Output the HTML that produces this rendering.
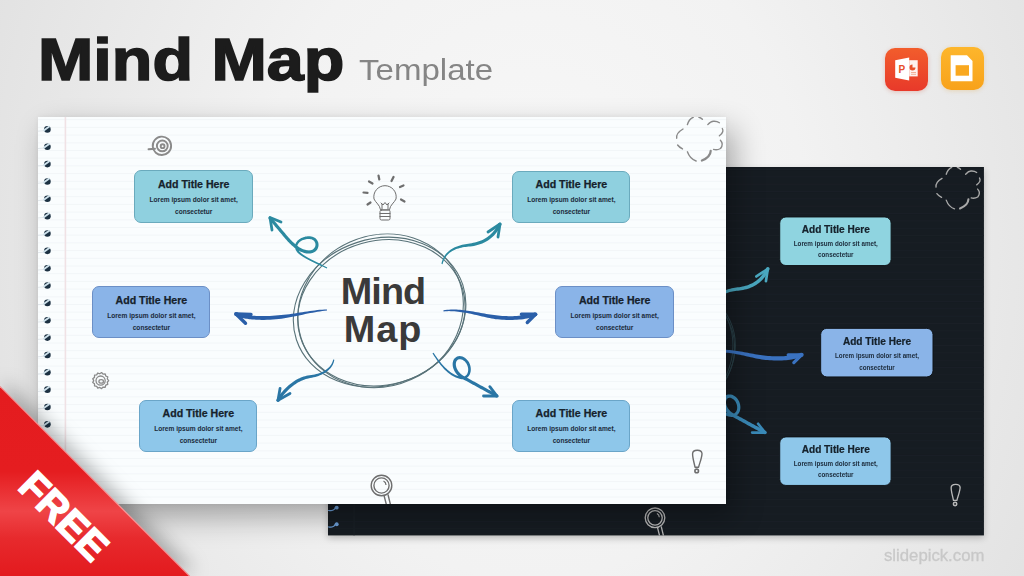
<!DOCTYPE html>
<html><head><meta charset="utf-8">
<style>
*{margin:0;padding:0;box-sizing:border-box}
html,body{width:1024px;height:576px;overflow:hidden}
body{position:relative;font-family:"Liberation Sans",sans-serif;
background:radial-gradient(ellipse 60% 130% at 52% 42%,#f8f8f8 0%,#f2f2f2 45%,#e0e0e0 100%)}
.abs{position:absolute}
#title{left:38.4px;top:26px;font-weight:bold;font-size:59px;color:#1c1c1c;transform-origin:0 0;transform:scaleX(1.126);-webkit-text-stroke:1.6px #1c1c1c;white-space:nowrap}
#tmpl{left:358.7px;top:54px;font-size:29px;color:#858585;white-space:nowrap;transform-origin:0 0;transform:scaleX(1.14)}
#site{left:883.5px;top:547px;font-size:16px;color:#c8c8c8;white-space:nowrap;transform-origin:0 0;transform:scaleX(1.045);-webkit-text-stroke:0.3px #c8c8c8}
.slide{position:absolute;width:689px;height:387px;overflow:hidden}
.slide .art{position:absolute;left:0;top:0}
.white{left:38px;top:117px;width:688px;background:#fafdfe;box-shadow:8px 13px 28px rgba(0,0,0,.32),0 0 6px rgba(0,0,0,.05)}
.dark{left:327.5px;top:167.4px;background:#161c22;transform-origin:0 0;transform:scale(0.952);box-shadow:0 3px 7px rgba(0,0,0,.22)}
.box{position:absolute;border:1.5px solid;border-radius:7px;text-align:center;color:#1b2a3a}
.bt{position:absolute;left:0;right:0;top:6.7px;font-weight:bold;font-size:10.6px;line-height:12px;white-space:nowrap;color:#16222c;-webkit-text-stroke:0.25px #16222c}
.bb{position:absolute;left:0;right:0;top:22.8px;font-weight:bold;font-size:6.6px;line-height:11.7px;white-space:nowrap}
.mm{position:absolute;left:290px;top:155px;width:110px;text-align:center;font-weight:bold;font-size:37.8px;line-height:38.3px}
#free{left:0;top:386px;width:190px;height:190px;clip-path:polygon(0 0,0 100%,100% 100%);
background:linear-gradient(180deg,#e41c1f 0%,#e51d20 45%,#ef4447 66%,#e72a2d 80%,#e31a1e 100%)}
#freetxt{left:63.5px;top:515.5px;width:0;height:0}
#freetxt span{position:absolute;left:-70px;top:-23px;width:140px;text-align:center;font-weight:bold;font-size:40px;line-height:46px;color:#fff;transform:rotate(45deg);letter-spacing:0px;-webkit-text-stroke:1.5px #fff}
.ico{position:absolute;width:43px;height:43px;border-radius:10px}
</style></head><body>
<div id="title" class="abs">Mind Map</div>
<div id="tmpl" class="abs">Template</div>
<div class="ico" style="left:885px;top:48px;background:linear-gradient(180deg,#f25d2c,#e8392a);box-shadow:0 1px 4px rgba(200,60,30,.25)">
<svg width="43" height="43" viewBox="0 0 43 43"><path d="M24.2,12.2 H32.7 V28.4 H24.2Z" fill="#fff" opacity=".92"/><path d="M10.2,12.2 L24.2,9.4 L24.2,32.6 L10.2,29.8 Z" fill="#fff"/><text x="13.6" y="24.6" font-family="Liberation Sans" font-weight="bold" font-size="10" fill="#e8502a">P</text><path d="M27.5,16.5 A3,3 0 1 0 30.5,19.5 H27.5Z" fill="#e8502a"/><path d="M26,24.5 H31 M26,26.3 H31" stroke="#f0a080" stroke-width=".8"/></svg></div>
<div class="ico" style="left:941px;top:47px;background:linear-gradient(180deg,#fdb62c,#f8a21a);box-shadow:0 1px 4px rgba(220,150,30,.25)">
<svg width="43" height="43" viewBox="0 0 43 43"><path d="M9.7,8.3 H26 L31.5,14 V34.3 H9.7 Z" fill="#fff"/><rect x="14.6" y="18.2" width="13.4" height="10.5" fill="#f9a81f"/></svg></div>
<div class="slide dark">
<svg class="art" width="689" height="387" viewBox="0 0 689 387">
<line x1="0" y1="2.70" x2="689" y2="2.70" stroke="#1a2027" stroke-width="1"/>
<line x1="0" y1="10.40" x2="689" y2="10.40" stroke="#1a2027" stroke-width="1"/>
<line x1="0" y1="18.10" x2="689" y2="18.10" stroke="#1a2027" stroke-width="1"/>
<line x1="0" y1="25.80" x2="689" y2="25.80" stroke="#1a2027" stroke-width="1"/>
<line x1="0" y1="33.50" x2="689" y2="33.50" stroke="#1a2027" stroke-width="1"/>
<line x1="0" y1="41.20" x2="689" y2="41.20" stroke="#1a2027" stroke-width="1"/>
<line x1="0" y1="48.90" x2="689" y2="48.90" stroke="#1a2027" stroke-width="1"/>
<line x1="0" y1="56.60" x2="689" y2="56.60" stroke="#1a2027" stroke-width="1"/>
<line x1="0" y1="64.30" x2="689" y2="64.30" stroke="#1a2027" stroke-width="1"/>
<line x1="0" y1="72.00" x2="689" y2="72.00" stroke="#1a2027" stroke-width="1"/>
<line x1="0" y1="79.70" x2="689" y2="79.70" stroke="#1a2027" stroke-width="1"/>
<line x1="0" y1="87.40" x2="689" y2="87.40" stroke="#1a2027" stroke-width="1"/>
<line x1="0" y1="95.10" x2="689" y2="95.10" stroke="#1a2027" stroke-width="1"/>
<line x1="0" y1="102.80" x2="689" y2="102.80" stroke="#1a2027" stroke-width="1"/>
<line x1="0" y1="110.50" x2="689" y2="110.50" stroke="#1a2027" stroke-width="1"/>
<line x1="0" y1="118.20" x2="689" y2="118.20" stroke="#1a2027" stroke-width="1"/>
<line x1="0" y1="125.90" x2="689" y2="125.90" stroke="#1a2027" stroke-width="1"/>
<line x1="0" y1="133.60" x2="689" y2="133.60" stroke="#1a2027" stroke-width="1"/>
<line x1="0" y1="141.30" x2="689" y2="141.30" stroke="#1a2027" stroke-width="1"/>
<line x1="0" y1="149.00" x2="689" y2="149.00" stroke="#1a2027" stroke-width="1"/>
<line x1="0" y1="156.70" x2="689" y2="156.70" stroke="#1a2027" stroke-width="1"/>
<line x1="0" y1="164.40" x2="689" y2="164.40" stroke="#1a2027" stroke-width="1"/>
<line x1="0" y1="172.10" x2="689" y2="172.10" stroke="#1a2027" stroke-width="1"/>
<line x1="0" y1="179.80" x2="689" y2="179.80" stroke="#1a2027" stroke-width="1"/>
<line x1="0" y1="187.50" x2="689" y2="187.50" stroke="#1a2027" stroke-width="1"/>
<line x1="0" y1="195.20" x2="689" y2="195.20" stroke="#1a2027" stroke-width="1"/>
<line x1="0" y1="202.90" x2="689" y2="202.90" stroke="#1a2027" stroke-width="1"/>
<line x1="0" y1="210.60" x2="689" y2="210.60" stroke="#1a2027" stroke-width="1"/>
<line x1="0" y1="218.30" x2="689" y2="218.30" stroke="#1a2027" stroke-width="1"/>
<line x1="0" y1="226.00" x2="689" y2="226.00" stroke="#1a2027" stroke-width="1"/>
<line x1="0" y1="233.70" x2="689" y2="233.70" stroke="#1a2027" stroke-width="1"/>
<line x1="0" y1="241.40" x2="689" y2="241.40" stroke="#1a2027" stroke-width="1"/>
<line x1="0" y1="249.10" x2="689" y2="249.10" stroke="#1a2027" stroke-width="1"/>
<line x1="0" y1="256.80" x2="689" y2="256.80" stroke="#1a2027" stroke-width="1"/>
<line x1="0" y1="264.50" x2="689" y2="264.50" stroke="#1a2027" stroke-width="1"/>
<line x1="0" y1="272.20" x2="689" y2="272.20" stroke="#1a2027" stroke-width="1"/>
<line x1="0" y1="279.90" x2="689" y2="279.90" stroke="#1a2027" stroke-width="1"/>
<line x1="0" y1="287.60" x2="689" y2="287.60" stroke="#1a2027" stroke-width="1"/>
<line x1="0" y1="295.30" x2="689" y2="295.30" stroke="#1a2027" stroke-width="1"/>
<line x1="0" y1="303.00" x2="689" y2="303.00" stroke="#1a2027" stroke-width="1"/>
<line x1="0" y1="310.70" x2="689" y2="310.70" stroke="#1a2027" stroke-width="1"/>
<line x1="0" y1="318.40" x2="689" y2="318.40" stroke="#1a2027" stroke-width="1"/>
<line x1="0" y1="326.10" x2="689" y2="326.10" stroke="#1a2027" stroke-width="1"/>
<line x1="0" y1="333.80" x2="689" y2="333.80" stroke="#1a2027" stroke-width="1"/>
<line x1="0" y1="341.50" x2="689" y2="341.50" stroke="#1a2027" stroke-width="1"/>
<line x1="0" y1="349.20" x2="689" y2="349.20" stroke="#1a2027" stroke-width="1"/>
<line x1="0" y1="356.90" x2="689" y2="356.90" stroke="#1a2027" stroke-width="1"/>
<line x1="0" y1="364.60" x2="689" y2="364.60" stroke="#1a2027" stroke-width="1"/>
<line x1="0" y1="372.30" x2="689" y2="372.30" stroke="#1a2027" stroke-width="1"/>
<line x1="0" y1="380.00" x2="689" y2="380.00" stroke="#1a2027" stroke-width="1"/>
<line x1="27.4" y1="0" x2="27.4" y2="387" stroke="#1a2026" stroke-width="1.6"/>
<path d="M0,14.00 C3,15.00 6,14.80 8.2,11.80 L10.6,10.60 C9.5,8.60 7,9.40 6.6,11.60 C5,13.40 3,13.60 0,13.20Z" fill="#6c9ed6"/>
<circle cx="9.2" cy="10.90" r="2" fill="#6c9ed6"/>
<path d="M0,31.35 C3,32.35 6,32.15 8.2,29.15 L10.6,27.95 C9.5,25.95 7,26.75 6.6,28.95 C5,30.75 3,30.95 0,30.55Z" fill="#6c9ed6"/>
<circle cx="9.2" cy="28.25" r="2" fill="#6c9ed6"/>
<path d="M0,48.70 C3,49.70 6,49.50 8.2,46.50 L10.6,45.30 C9.5,43.30 7,44.10 6.6,46.30 C5,48.10 3,48.30 0,47.90Z" fill="#6c9ed6"/>
<circle cx="9.2" cy="45.60" r="2" fill="#6c9ed6"/>
<path d="M0,66.05 C3,67.05 6,66.85 8.2,63.85 L10.6,62.65 C9.5,60.65 7,61.45 6.6,63.65 C5,65.45 3,65.65 0,65.25Z" fill="#6c9ed6"/>
<circle cx="9.2" cy="62.95" r="2" fill="#6c9ed6"/>
<path d="M0,83.40 C3,84.40 6,84.20 8.2,81.20 L10.6,80.00 C9.5,78.00 7,78.80 6.6,81.00 C5,82.80 3,83.00 0,82.60Z" fill="#6c9ed6"/>
<circle cx="9.2" cy="80.30" r="2" fill="#6c9ed6"/>
<path d="M0,100.75 C3,101.75 6,101.55 8.2,98.55 L10.6,97.35 C9.5,95.35 7,96.15 6.6,98.35 C5,100.15 3,100.35 0,99.95Z" fill="#6c9ed6"/>
<circle cx="9.2" cy="97.65" r="2" fill="#6c9ed6"/>
<path d="M0,118.10 C3,119.10 6,118.90 8.2,115.90 L10.6,114.70 C9.5,112.70 7,113.50 6.6,115.70 C5,117.50 3,117.70 0,117.30Z" fill="#6c9ed6"/>
<circle cx="9.2" cy="115.00" r="2" fill="#6c9ed6"/>
<path d="M0,135.45 C3,136.45 6,136.25 8.2,133.25 L10.6,132.05 C9.5,130.05 7,130.85 6.6,133.05 C5,134.85 3,135.05 0,134.65Z" fill="#6c9ed6"/>
<circle cx="9.2" cy="132.35" r="2" fill="#6c9ed6"/>
<path d="M0,152.80 C3,153.80 6,153.60 8.2,150.60 L10.6,149.40 C9.5,147.40 7,148.20 6.6,150.40 C5,152.20 3,152.40 0,152.00Z" fill="#6c9ed6"/>
<circle cx="9.2" cy="149.70" r="2" fill="#6c9ed6"/>
<path d="M0,170.15 C3,171.15 6,170.95 8.2,167.95 L10.6,166.75 C9.5,164.75 7,165.55 6.6,167.75 C5,169.55 3,169.75 0,169.35Z" fill="#6c9ed6"/>
<circle cx="9.2" cy="167.05" r="2" fill="#6c9ed6"/>
<path d="M0,187.50 C3,188.50 6,188.30 8.2,185.30 L10.6,184.10 C9.5,182.10 7,182.90 6.6,185.10 C5,186.90 3,187.10 0,186.70Z" fill="#6c9ed6"/>
<circle cx="9.2" cy="184.40" r="2" fill="#6c9ed6"/>
<path d="M0,204.85 C3,205.85 6,205.65 8.2,202.65 L10.6,201.45 C9.5,199.45 7,200.25 6.6,202.45 C5,204.25 3,204.45 0,204.05Z" fill="#6c9ed6"/>
<circle cx="9.2" cy="201.75" r="2" fill="#6c9ed6"/>
<path d="M0,222.20 C3,223.20 6,223.00 8.2,220.00 L10.6,218.80 C9.5,216.80 7,217.60 6.6,219.80 C5,221.60 3,221.80 0,221.40Z" fill="#6c9ed6"/>
<circle cx="9.2" cy="219.10" r="2" fill="#6c9ed6"/>
<path d="M0,239.55 C3,240.55 6,240.35 8.2,237.35 L10.6,236.15 C9.5,234.15 7,234.95 6.6,237.15 C5,238.95 3,239.15 0,238.75Z" fill="#6c9ed6"/>
<circle cx="9.2" cy="236.45" r="2" fill="#6c9ed6"/>
<path d="M0,256.90 C3,257.90 6,257.70 8.2,254.70 L10.6,253.50 C9.5,251.50 7,252.30 6.6,254.50 C5,256.30 3,256.50 0,256.10Z" fill="#6c9ed6"/>
<circle cx="9.2" cy="253.80" r="2" fill="#6c9ed6"/>
<path d="M0,274.25 C3,275.25 6,275.05 8.2,272.05 L10.6,270.85 C9.5,268.85 7,269.65 6.6,271.85 C5,273.65 3,273.85 0,273.45Z" fill="#6c9ed6"/>
<circle cx="9.2" cy="271.15" r="2" fill="#6c9ed6"/>
<path d="M0,291.60 C3,292.60 6,292.40 8.2,289.40 L10.6,288.20 C9.5,286.20 7,287.00 6.6,289.20 C5,291.00 3,291.20 0,290.80Z" fill="#6c9ed6"/>
<circle cx="9.2" cy="288.50" r="2" fill="#6c9ed6"/>
<path d="M0,308.95 C3,309.95 6,309.75 8.2,306.75 L10.6,305.55 C9.5,303.55 7,304.35 6.6,306.55 C5,308.35 3,308.55 0,308.15Z" fill="#6c9ed6"/>
<circle cx="9.2" cy="305.85" r="2" fill="#6c9ed6"/>
<path d="M0,326.30 C3,327.30 6,327.10 8.2,324.10 L10.6,322.90 C9.5,320.90 7,321.70 6.6,323.90 C5,325.70 3,325.90 0,325.50Z" fill="#6c9ed6"/>
<circle cx="9.2" cy="323.20" r="2" fill="#6c9ed6"/>
<path d="M0,343.65 C3,344.65 6,344.45 8.2,341.45 L10.6,340.25 C9.5,338.25 7,339.05 6.6,341.25 C5,343.05 3,343.25 0,342.85Z" fill="#6c9ed6"/>
<circle cx="9.2" cy="340.55" r="2" fill="#6c9ed6"/>
<path d="M0,361.00 C3,362.00 6,361.80 8.2,358.80 L10.6,357.60 C9.5,355.60 7,356.40 6.6,358.60 C5,360.40 3,360.60 0,360.20Z" fill="#6c9ed6"/>
<circle cx="9.2" cy="357.90" r="2" fill="#6c9ed6"/>
<path d="M0,378.35 C3,379.35 6,379.15 8.2,376.15 L10.6,374.95 C9.5,372.95 7,373.75 6.6,375.95 C5,377.75 3,377.95 0,377.55Z" fill="#6c9ed6"/>
<circle cx="9.2" cy="375.25" r="2" fill="#6c9ed6"/>
<g fill="none" stroke="#2a4048" stroke-width="1.1">
<ellipse cx="341.6" cy="195.2" rx="87.6" ry="73.3" transform="rotate(-18.3 341.6 195.2)"/>
<ellipse cx="343.4" cy="195.8" rx="84.6" ry="72.0" transform="rotate(-16 343.4 195.8)"/>
<ellipse cx="342.6" cy="193.8" rx="84.2" ry="75.2" transform="rotate(-24 342.6 193.8)"/>
</g>
<path d="M289.58,149.84 L288.06,149.07 L286.52,148.31 L284.97,147.54 L283.40,146.78 L281.83,146.02 L280.27,145.26 L278.71,144.50 L277.17,143.74 L275.65,142.98 L274.17,142.23 L272.72,141.47 L271.31,140.72 L269.95,139.97 L268.65,139.22 L267.42,138.48 L266.25,137.74 L265.17,137.01 L264.17,136.29 L263.27,135.57 L262.46,134.87 L261.77,134.18 L261.19,133.52 L260.73,132.89 L260.40,132.31 L260.05,131.48 L259.84,130.71 L259.75,129.99 L259.75,129.30 L259.85,128.64 L260.04,128.01 L260.32,127.39 L260.68,126.78 L261.13,126.20 L261.65,125.64 L262.26,125.10 L262.94,124.60 L263.68,124.14 L264.47,123.72 L265.31,123.35 L266.20,123.03 L267.11,122.77 L268.04,122.56 L268.98,122.42 L269.93,122.34 L270.87,122.33 L271.80,122.38 L272.71,122.50 L273.47,122.65 L274.16,122.97 L274.83,123.37 L275.40,123.80 L275.89,124.28 L276.29,124.78 L276.62,125.31 L276.87,125.86 L277.05,126.43 L277.16,127.01 L277.21,127.60 L277.19,128.19 L277.10,128.77 L276.94,129.34 L276.73,129.89 L276.44,130.42 L276.10,130.92 L275.70,131.38 L275.23,131.80 L274.71,132.18 L274.11,132.51 L273.45,132.78 L272.71,132.98 L271.90,133.11 L270.99,133.16 L270.01,133.12 L269.03,133.02 L268.06,132.84 L267.08,132.60 L266.11,132.30 L265.15,131.94 L264.18,131.51 L263.23,131.04 L262.28,130.51 L261.33,129.93 L260.40,129.31 L259.47,128.65 L258.55,127.94 L257.65,127.21 L256.76,126.44 L255.88,125.65 L255.01,124.83 L254.16,124.00 L253.32,123.14 L252.50,122.28 L251.70,121.41 L250.91,120.54 L250.15,119.67 L249.40,118.81 L248.74,118.02 L248.07,117.23 L247.41,116.44 L246.74,115.65 L246.07,114.86 L245.41,114.06 L244.74,113.27 L244.07,112.48 L243.41,111.69 L242.74,110.90 L242.07,110.11 L241.41,109.31 L240.74,108.52 L240.07,107.73 L239.41,106.94 L238.74,106.15 L238.07,105.36 L237.41,104.56 L236.74,103.77 L236.07,102.98 L235.41,102.19 L234.74,101.40 L234.07,100.61 L233.41,99.81 L230.59,102.19 L231.26,102.98 L231.93,103.77 L232.59,104.56 L233.26,105.35 L233.93,106.14 L234.59,106.94 L235.26,107.73 L235.93,108.52 L236.59,109.31 L237.26,110.10 L237.93,110.89 L238.59,111.69 L239.26,112.48 L239.93,113.27 L240.59,114.06 L241.26,114.85 L241.93,115.64 L242.59,116.44 L243.26,117.23 L243.93,118.02 L244.59,118.81 L245.26,119.60 L245.93,120.39 L246.60,121.19 L247.37,122.09 L248.17,122.99 L248.98,123.89 L249.82,124.80 L250.68,125.70 L251.56,126.60 L252.46,127.48 L253.38,128.35 L254.33,129.20 L255.29,130.03 L256.27,130.83 L257.28,131.60 L258.31,132.34 L259.35,133.04 L260.42,133.69 L261.51,134.29 L262.63,134.85 L263.76,135.34 L264.92,135.78 L266.09,136.15 L267.29,136.44 L268.51,136.66 L269.75,136.79 L271.01,136.84 L272.28,136.77 L273.49,136.58 L274.63,136.26 L275.69,135.83 L276.67,135.30 L277.55,134.66 L278.33,133.95 L279.01,133.15 L279.58,132.30 L280.05,131.40 L280.41,130.45 L280.65,129.48 L280.79,128.49 L280.81,127.49 L280.71,126.49 L280.50,125.50 L280.18,124.53 L279.73,123.60 L279.16,122.71 L278.47,121.88 L277.67,121.12 L276.76,120.44 L275.73,119.86 L274.53,119.35 L273.27,119.09 L272.09,118.95 L270.91,118.90 L269.73,118.94 L268.56,119.05 L267.40,119.25 L266.25,119.52 L265.14,119.86 L264.05,120.27 L263.01,120.74 L262.01,121.29 L261.06,121.90 L260.18,122.57 L259.37,123.32 L258.63,124.12 L257.99,124.99 L257.45,125.93 L257.02,126.93 L256.73,127.98 L256.58,129.09 L256.59,130.22 L256.76,131.38 L257.10,132.54 L257.60,133.69 L258.14,134.61 L258.79,135.48 L259.55,136.32 L260.40,137.13 L261.34,137.93 L262.36,138.71 L263.46,139.49 L264.64,140.26 L265.88,141.02 L267.18,141.78 L268.54,142.53 L269.94,143.28 L271.39,144.03 L272.88,144.77 L274.40,145.52 L275.94,146.26 L277.50,147.00 L279.08,147.74 L280.66,148.48 L282.24,149.22 L283.81,149.96 L285.37,150.69 L286.91,151.43 L288.42,152.16Z" fill="#4aa8c0"/><circle cx="232.00" cy="101.00" r="1.84" fill="#4aa8c0"/>
<path d="M243,105 L232,100.5 L234,113" fill="none" stroke="#4aa8c0" stroke-width="2.8000000000000003" stroke-linecap="round" stroke-linejoin="round"/>
<path d="M405.26,147.32 L405.70,145.67 L406.21,144.17 L406.81,142.77 L407.50,141.47 L408.25,140.26 L409.08,139.14 L409.98,138.10 L410.94,137.13 L411.97,136.24 L413.05,135.42 L414.19,134.66 L415.38,133.97 L416.62,133.34 L417.90,132.77 L419.22,132.26 L420.58,131.80 L421.97,131.39 L423.39,131.03 L424.82,130.72 L426.27,130.45 L427.74,130.23 L429.21,130.04 L430.68,129.89 L432.22,129.77 L434.14,129.50 L435.99,129.19 L437.78,128.80 L439.51,128.36 L441.19,127.85 L442.81,127.29 L444.38,126.67 L445.89,126.00 L447.36,125.27 L448.77,124.48 L450.14,123.64 L451.45,122.74 L452.71,121.79 L453.93,120.79 L455.09,119.72 L456.22,118.61 L457.29,117.44 L458.32,116.22 L459.31,114.95 L460.25,113.62 L461.16,112.25 L462.02,110.82 L462.85,109.35 L463.63,107.85 L460.37,106.15 L459.62,107.60 L458.85,108.97 L458.05,110.28 L457.22,111.54 L456.36,112.75 L455.46,113.90 L454.53,115.01 L453.56,116.06 L452.56,117.06 L451.51,118.01 L450.43,118.91 L449.30,119.76 L448.13,120.56 L446.91,121.31 L445.64,122.01 L444.33,122.67 L442.96,123.28 L441.53,123.84 L440.05,124.35 L438.52,124.81 L436.92,125.23 L435.26,125.60 L433.55,125.94 L431.78,126.23 L430.31,126.39 L428.76,126.59 L427.21,126.83 L425.66,127.11 L424.12,127.44 L422.58,127.81 L421.06,128.24 L419.57,128.72 L418.09,129.26 L416.65,129.87 L415.24,130.54 L413.87,131.28 L412.55,132.10 L411.28,132.99 L410.06,133.96 L408.91,135.02 L407.83,136.16 L406.82,137.39 L405.90,138.71 L405.07,140.13 L404.33,141.64 L403.69,143.24 L403.16,144.93 L402.74,146.68Z" fill="#4aa8c0"/><circle cx="462.00" cy="107.00" r="1.84" fill="#4aa8c0"/>
<path d="M450,115 L462,107 L460,120" fill="none" stroke="#4aa8c0" stroke-width="2.8000000000000003" stroke-linecap="round" stroke-linejoin="round"/>
<path d="M288.92,191.70 L286.52,191.82 L284.09,191.99 L281.65,192.21 L279.21,192.48 L276.74,192.79 L274.27,193.14 L271.78,193.51 L269.27,193.90 L266.74,194.31 L264.20,194.73 L261.64,195.16 L259.05,195.58 L256.44,196.00 L253.82,196.40 L251.16,196.79 L248.48,197.16 L245.78,197.49 L243.04,197.80 L240.28,198.06 L237.49,198.30 L234.67,198.52 L231.82,198.68 L228.93,198.78 L225.98,198.82 L224.65,198.81 L223.31,198.79 L221.98,198.77 L220.67,198.73 L219.37,198.68 L218.09,198.62 L216.82,198.54 L215.58,198.45 L214.35,198.35 L213.14,198.23 L211.95,198.10 L210.79,197.96 L209.64,197.80 L208.52,197.62 L207.43,197.43 L206.36,197.23 L205.32,197.01 L204.30,196.77 L203.32,196.51 L202.36,196.24 L201.44,195.96 L200.55,195.65 L199.69,195.33 L198.83,194.98 L197.17,199.02 L198.09,199.40 L199.08,199.77 L200.08,200.11 L201.12,200.43 L202.18,200.73 L203.26,201.01 L204.36,201.27 L205.49,201.51 L206.64,201.73 L207.81,201.94 L209.00,202.12 L210.21,202.29 L211.44,202.44 L212.69,202.58 L213.96,202.70 L215.24,202.81 L216.54,202.90 L217.85,202.98 L219.18,203.04 L220.52,203.10 L221.87,203.14 L223.24,203.16 L224.61,203.18 L226.02,203.18 L229.03,203.15 L232.02,203.04 L234.96,202.88 L237.87,202.65 L240.73,202.35 L243.55,201.98 L246.33,201.58 L249.07,201.14 L251.78,200.67 L254.45,200.18 L257.09,199.68 L259.70,199.17 L262.28,198.65 L264.82,198.14 L267.35,197.63 L269.84,197.14 L272.31,196.66 L274.76,196.21 L277.19,195.78 L279.60,195.40 L281.99,195.05 L284.36,194.74 L286.72,194.49 L289.08,194.30Z" fill="#3a72c0"/><circle cx="198.00" cy="197.00" r="2.18" fill="#3a72c0"/>
<path d="M213,197.5 L198,197 L207.5,206.3" fill="none" stroke="#3a72c0" stroke-width="3.4" stroke-linecap="round" stroke-linejoin="round"/>
<path d="M405.64,195.09 L407.44,194.93 L409.22,194.83 L411.00,194.78 L412.80,194.78 L414.59,194.83 L416.39,194.92 L418.20,195.05 L420.01,195.23 L421.83,195.44 L423.65,195.68 L425.48,195.96 L427.31,196.26 L429.14,196.59 L430.98,196.94 L432.82,197.31 L434.67,197.70 L436.52,198.10 L438.38,198.51 L440.24,198.93 L442.10,199.35 L443.97,199.78 L445.84,200.20 L447.72,200.62 L449.60,201.04 L451.53,201.44 L453.51,201.81 L455.54,202.14 L457.60,202.41 L459.69,202.64 L461.81,202.84 L463.95,203.00 L466.10,203.12 L468.26,203.20 L470.42,203.25 L472.59,203.26 L474.74,203.22 L476.89,203.15 L479.01,203.03 L481.12,202.87 L483.20,202.67 L485.25,202.42 L487.26,202.13 L489.23,201.79 L491.15,201.40 L493.02,200.96 L494.83,200.48 L496.58,199.94 L498.23,199.36 L496.77,195.24 L495.22,195.79 L493.62,196.28 L491.95,196.73 L490.22,197.13 L488.42,197.49 L486.57,197.81 L484.67,198.09 L482.73,198.32 L480.74,198.52 L478.73,198.67 L476.69,198.78 L474.63,198.85 L472.56,198.89 L470.48,198.88 L468.39,198.84 L466.31,198.75 L464.23,198.64 L462.17,198.48 L460.13,198.30 L458.12,198.07 L456.13,197.82 L454.18,197.57 L452.27,197.28 L450.40,196.96 L448.53,196.62 L446.66,196.26 L444.78,195.90 L442.90,195.54 L441.02,195.18 L439.14,194.83 L437.25,194.48 L435.36,194.14 L433.48,193.81 L431.59,193.50 L429.71,193.21 L427.82,192.94 L425.93,192.69 L424.05,192.47 L422.17,192.29 L420.29,192.13 L418.41,192.02 L416.53,191.94 L414.65,191.91 L412.78,191.93 L410.92,191.99 L409.05,192.11 L407.19,192.28 L405.36,192.51Z" fill="#3a72c0"/><circle cx="497.50" cy="197.30" r="2.18" fill="#3a72c0"/>
<path d="M483.4,197.3 L497.5,197.3 L489.3,205.5" fill="none" stroke="#3a72c0" stroke-width="3.4" stroke-linecap="round" stroke-linejoin="round"/>
<path d="M294.48,242.42 L294.22,243.51 L293.90,244.53 L293.51,245.51 L293.06,246.46 L292.54,247.37 L291.95,248.25 L291.30,249.10 L290.58,249.91 L289.79,250.69 L288.93,251.44 L288.01,252.16 L287.01,252.85 L285.95,253.50 L284.82,254.12 L283.61,254.70 L282.34,255.25 L281.00,255.76 L279.60,256.23 L278.12,256.67 L276.58,257.07 L274.98,257.43 L273.31,257.75 L271.57,258.03 L269.69,258.28 L268.32,258.56 L266.96,258.91 L265.59,259.32 L264.21,259.79 L262.83,260.33 L261.44,260.95 L260.05,261.63 L258.66,262.37 L257.27,263.17 L255.89,264.03 L254.52,264.95 L253.15,265.94 L251.80,266.98 L250.46,268.09 L249.13,269.25 L247.83,270.47 L246.55,271.75 L245.29,273.09 L244.06,274.49 L242.87,275.95 L241.70,277.46 L240.57,279.04 L239.48,280.67 L238.44,282.33 L241.56,284.27 L242.57,282.66 L243.59,281.14 L244.65,279.66 L245.75,278.24 L246.87,276.88 L248.02,275.57 L249.19,274.31 L250.39,273.11 L251.61,271.97 L252.84,270.89 L254.09,269.86 L255.35,268.89 L256.62,267.97 L257.89,267.12 L259.17,266.32 L260.45,265.58 L261.73,264.90 L263.00,264.28 L264.26,263.72 L265.51,263.20 L266.74,262.74 L267.96,262.34 L269.16,262.00 L270.31,261.72 L272.12,261.43 L273.94,261.09 L275.70,260.70 L277.40,260.27 L279.04,259.80 L280.61,259.29 L282.12,258.73 L283.56,258.14 L284.94,257.50 L286.25,256.82 L287.50,256.09 L288.68,255.33 L289.78,254.52 L290.82,253.67 L291.79,252.77 L292.68,251.84 L293.50,250.86 L294.24,249.84 L294.91,248.78 L295.49,247.69 L296.00,246.55 L296.42,245.38 L296.77,244.18 L297.02,242.98Z" fill="#3a8ab8"/><circle cx="240.00" cy="283.30" r="1.84" fill="#3a8ab8"/>
<path d="M242.1,271.3 L240,283.3 L252,276.5" fill="none" stroke="#3a8ab8" stroke-width="2.8000000000000003" stroke-linecap="round" stroke-linejoin="round"/>
<path d="M393.91,236.70 L394.79,238.10 L395.71,239.52 L396.66,240.95 L397.64,242.38 L398.66,243.81 L399.70,245.24 L400.78,246.65 L401.88,248.04 L403.02,249.41 L404.19,250.74 L405.38,252.04 L406.61,253.29 L407.87,254.49 L409.16,255.64 L410.49,256.73 L411.84,257.74 L413.23,258.69 L414.65,259.55 L416.10,260.32 L417.59,261.00 L419.11,261.57 L420.66,262.03 L422.25,262.37 L423.94,262.59 L425.42,262.50 L426.75,262.22 L427.97,261.76 L429.08,261.14 L430.06,260.36 L430.90,259.46 L431.61,258.46 L432.18,257.37 L432.62,256.22 L432.93,255.01 L433.12,253.77 L433.18,252.50 L433.13,251.21 L432.96,249.92 L432.68,248.63 L432.27,247.36 L431.75,246.12 L431.11,244.91 L430.34,243.76 L429.45,242.68 L428.44,241.68 L427.30,240.78 L426.04,239.99 L424.59,239.31 L423.06,238.95 L421.65,238.84 L420.30,238.97 L419.04,239.34 L417.89,239.92 L416.89,240.70 L416.06,241.65 L415.40,242.72 L414.91,243.90 L414.58,245.16 L414.42,246.48 L414.41,247.85 L414.56,249.26 L414.88,250.69 L415.35,252.14 L415.98,253.60 L416.78,255.04 L417.75,256.45 L418.89,257.83 L420.21,259.16 L421.70,260.42 L423.37,261.60 L425.23,262.70 L427.16,263.64 L428.41,264.32 L429.70,265.03 L430.99,265.74 L432.28,266.45 L433.57,267.16 L434.87,267.86 L436.16,268.57 L437.45,269.28 L438.74,269.99 L440.03,270.70 L441.32,271.41 L442.62,272.11 L443.91,272.82 L445.20,273.53 L446.49,274.24 L447.78,274.95 L449.07,275.66 L450.37,276.36 L451.66,277.07 L452.95,277.78 L454.24,278.49 L455.53,279.20 L456.82,279.91 L458.12,280.61 L459.88,277.39 L458.59,276.68 L457.30,275.97 L456.01,275.26 L454.72,274.55 L453.43,273.84 L452.13,273.14 L450.84,272.43 L449.55,271.72 L448.26,271.01 L446.97,270.30 L445.68,269.59 L444.38,268.89 L443.09,268.18 L441.80,267.47 L440.51,266.76 L439.22,266.05 L437.93,265.34 L436.63,264.64 L435.34,263.93 L434.05,263.22 L432.76,262.51 L431.47,261.80 L430.18,261.09 L428.84,260.36 L426.96,259.45 L425.37,258.51 L423.95,257.51 L422.70,256.45 L421.62,255.36 L420.69,254.24 L419.91,253.10 L419.28,251.96 L418.79,250.83 L418.43,249.73 L418.20,248.67 L418.09,247.65 L418.09,246.70 L418.20,245.84 L418.40,245.06 L418.68,244.39 L419.02,243.82 L419.42,243.36 L419.87,242.99 L420.39,242.72 L420.99,242.54 L421.70,242.46 L422.52,242.51 L423.41,242.69 L424.35,243.13 L425.28,243.69 L426.12,244.33 L426.88,245.06 L427.55,245.86 L428.14,246.71 L428.64,247.62 L429.06,248.57 L429.38,249.54 L429.62,250.53 L429.76,251.52 L429.82,252.50 L429.78,253.45 L429.66,254.37 L429.45,255.23 L429.16,256.04 L428.79,256.76 L428.35,257.41 L427.84,257.98 L427.25,258.46 L426.59,258.85 L425.84,259.14 L424.98,259.34 L424.06,259.41 L422.77,259.26 L421.42,258.99 L420.08,258.61 L418.75,258.13 L417.44,257.56 L416.13,256.89 L414.84,256.13 L413.57,255.29 L412.31,254.37 L411.06,253.38 L409.84,252.33 L408.64,251.21 L407.45,250.04 L406.29,248.82 L405.16,247.56 L404.04,246.26 L402.95,244.93 L401.89,243.58 L400.86,242.20 L399.85,240.82 L398.87,239.44 L397.91,238.05 L396.99,236.67 L396.09,235.30Z" fill="#3a8ab8"/><circle cx="459.00" cy="279.00" r="1.84" fill="#3a8ab8"/>
<path d="M451.8,269.7 L459,279 L445.5,279" fill="none" stroke="#3a8ab8" stroke-width="2.8000000000000003" stroke-linecap="round" stroke-linejoin="round"/>
<g fill="none" stroke="#a8a8a8" stroke-width="1.9" stroke-linecap="round">
<path d="M114.8,30 A9.2,9.2 0 1 1 123.8,38 A9.2,9.2 0 0 1 114.8,30"/>
<circle cx="124.3" cy="28.9" r="5.4"/>
<circle cx="124.6" cy="29.2" r="1.9"/>
<path d="M110.5,32.3 L117,31.8"/>
</g>
<g fill="none" stroke="#b8b8b8" stroke-width="1" stroke-linecap="round">
<path d="M342.5,92.5 C342,88 337.5,85.5 336,82 A11.2,11.2 0 1 1 358,82 C356.5,85.5 352,88 351.5,92.5 Z"/>
<path d="M344,92 L344,87 M350,92 L350,87 M343,86 L345,88 L347,85.5 L349,88 L351,86"/>
<rect x="342" y="93" width="10" height="10" rx="1.5"/>
<path d="M342,96.5 H352 M342,99.5 H352"/>
</g>
<g stroke="#b8b8b8" stroke-width="2.2" stroke-linecap="round">
<path d="M340.5,58.5 L341.3,62.5"/><path d="M355.5,60 L353.5,64"/><path d="M331,64.5 L334.5,66.5"/>
<path d="M365.5,68.5 L362,70"/><path d="M325.5,75.5 L329.5,75.8"/><path d="M363,82.5 L366.5,84.5"/><path d="M329.5,87.5 L332.5,85.5"/>
</g>
<g fill="none" stroke="#a8a8a8" stroke-width="1.4" stroke-linecap="round">
<path d="M649.4,7.6 Q651,2 655.2,0.3"/>
<path d="M661,0.3 Q663,0.8 664.4,2.3"/>
<path d="M669.8,7.6 Q673,4 675.6,4.2 Q679,4 681.4,5.7"/>
<path d="M684.3,11.5 Q686.5,15 681.4,18.8"/>
<path d="M682.4,23.2 Q686,27 682.5,31.5 Q679,33.5 675.6,32.4"/>
<path d="M672.7,33.9 Q672.5,40 663.9,43.6" stroke-width="2.2"/>
<path d="M658.1,44 Q652,42 649.4,34.8"/>
<path d="M644.5,31.9 Q641,30 639.6,28"/>
<path d="M638.7,21.2 Q638,16 645,12"/>
</g>
<g fill="none" stroke="#a8a8a8" stroke-width="1.3" stroke-linejoin="round">
<polygon points="70.70,263.60 69.30,265.25 69.77,267.36 67.76,268.18 67.20,270.27 65.05,270.05 63.58,271.64 61.77,270.45 59.73,271.17 58.68,269.28 56.54,268.97 56.49,266.81 54.74,265.54 55.70,263.60 54.74,261.66 56.49,260.39 56.54,258.23 58.68,257.92 59.73,256.03 61.77,256.75 63.58,255.56 65.05,257.15 67.20,256.93 67.76,259.02 69.77,259.84 69.30,261.95"/>
<circle cx="62.6" cy="263.6" r="4.6"/>
<ellipse cx="63.2" cy="264.4" rx="2.3" ry="1.8"/>
</g>
<g fill="none" stroke="#b8b8b8" stroke-width="1.4" stroke-linejoin="round">
<path d="M654.6,336.5 C654.8,332.5 663.5,332 664,336.5 C664,341 661.5,346 660.6,350.2 L657,350.2 C656,345 654.4,340.5 654.6,336.5 Z"/>
<circle cx="658.7" cy="353.9" r="1.8" stroke-width="1.6"/>
</g>
<g fill="none" stroke="#b8b8b8" stroke-width="1.4">
<circle cx="343.5" cy="368.5" r="10.3"/>
<circle cx="343.5" cy="368.5" r="7.6"/>
<path d="M345.5,364 A4.5,4.5 0 0 1 348,368" stroke-width="1.2"/>
<path d="M346,378.3 L349.5,392 M350,377.5 L353.5,392"/>
</g>
</svg>
<div class="box" style="left:96.2px;top:53.2px;width:119px;height:52.8px;background:#8fd4e0;border-color:#0e1216"><div class="bt">Add Title Here</div><div class="bb">Lorem ipsum dolor sit amet,<br>consectetur</div></div>
<div class="box" style="left:474.4px;top:51.7px;width:118px;height:52.7px;background:#8fd4e0;border-color:#0e1216"><div class="bt">Add Title Here</div><div class="bb">Lorem ipsum dolor sit amet,<br>consectetur</div></div>
<div class="box" style="left:54.4px;top:169px;width:118px;height:52px;background:#8ab4e8;border-color:#0e1216"><div class="bt">Add Title Here</div><div class="bb">Lorem ipsum dolor sit amet,<br>consectetur</div></div>
<div class="box" style="left:517.4px;top:169px;width:118.6px;height:52.2px;background:#8ab4e8;border-color:#0e1216"><div class="bt">Add Title Here</div><div class="bb">Lorem ipsum dolor sit amet,<br>consectetur</div></div>
<div class="box" style="left:101.2px;top:282.5px;width:118.3px;height:52px;background:#8ec7ea;border-color:#0e1216"><div class="bt">Add Title Here</div><div class="bb">Lorem ipsum dolor sit amet,<br>consectetur</div></div>
<div class="box" style="left:474.4px;top:282.5px;width:118px;height:52px;background:#8ec7ea;border-color:#0e1216"><div class="bt">Add Title Here</div><div class="bb">Lorem ipsum dolor sit amet,<br>consectetur</div></div>
<div class="mm" style="color:#3a3a3a"><span style="letter-spacing:-0.9px">Mind</span><br><span style="letter-spacing:0.9px">Map</span></div>
</div>
<div class="slide white">
<svg class="art" width="689" height="387" viewBox="0 0 689 387">
<line x1="0" y1="2.70" x2="689" y2="2.70" stroke="#f2f6f8" stroke-width="1"/>
<line x1="0" y1="10.40" x2="689" y2="10.40" stroke="#f2f6f8" stroke-width="1"/>
<line x1="0" y1="18.10" x2="689" y2="18.10" stroke="#f2f6f8" stroke-width="1"/>
<line x1="0" y1="25.80" x2="689" y2="25.80" stroke="#f2f6f8" stroke-width="1"/>
<line x1="0" y1="33.50" x2="689" y2="33.50" stroke="#f2f6f8" stroke-width="1"/>
<line x1="0" y1="41.20" x2="689" y2="41.20" stroke="#f2f6f8" stroke-width="1"/>
<line x1="0" y1="48.90" x2="689" y2="48.90" stroke="#f2f6f8" stroke-width="1"/>
<line x1="0" y1="56.60" x2="689" y2="56.60" stroke="#f2f6f8" stroke-width="1"/>
<line x1="0" y1="64.30" x2="689" y2="64.30" stroke="#f2f6f8" stroke-width="1"/>
<line x1="0" y1="72.00" x2="689" y2="72.00" stroke="#f2f6f8" stroke-width="1"/>
<line x1="0" y1="79.70" x2="689" y2="79.70" stroke="#f2f6f8" stroke-width="1"/>
<line x1="0" y1="87.40" x2="689" y2="87.40" stroke="#f2f6f8" stroke-width="1"/>
<line x1="0" y1="95.10" x2="689" y2="95.10" stroke="#f2f6f8" stroke-width="1"/>
<line x1="0" y1="102.80" x2="689" y2="102.80" stroke="#f2f6f8" stroke-width="1"/>
<line x1="0" y1="110.50" x2="689" y2="110.50" stroke="#f2f6f8" stroke-width="1"/>
<line x1="0" y1="118.20" x2="689" y2="118.20" stroke="#f2f6f8" stroke-width="1"/>
<line x1="0" y1="125.90" x2="689" y2="125.90" stroke="#f2f6f8" stroke-width="1"/>
<line x1="0" y1="133.60" x2="689" y2="133.60" stroke="#f2f6f8" stroke-width="1"/>
<line x1="0" y1="141.30" x2="689" y2="141.30" stroke="#f2f6f8" stroke-width="1"/>
<line x1="0" y1="149.00" x2="689" y2="149.00" stroke="#f2f6f8" stroke-width="1"/>
<line x1="0" y1="156.70" x2="689" y2="156.70" stroke="#f2f6f8" stroke-width="1"/>
<line x1="0" y1="164.40" x2="689" y2="164.40" stroke="#f2f6f8" stroke-width="1"/>
<line x1="0" y1="172.10" x2="689" y2="172.10" stroke="#f2f6f8" stroke-width="1"/>
<line x1="0" y1="179.80" x2="689" y2="179.80" stroke="#f2f6f8" stroke-width="1"/>
<line x1="0" y1="187.50" x2="689" y2="187.50" stroke="#f2f6f8" stroke-width="1"/>
<line x1="0" y1="195.20" x2="689" y2="195.20" stroke="#f2f6f8" stroke-width="1"/>
<line x1="0" y1="202.90" x2="689" y2="202.90" stroke="#f2f6f8" stroke-width="1"/>
<line x1="0" y1="210.60" x2="689" y2="210.60" stroke="#f2f6f8" stroke-width="1"/>
<line x1="0" y1="218.30" x2="689" y2="218.30" stroke="#f2f6f8" stroke-width="1"/>
<line x1="0" y1="226.00" x2="689" y2="226.00" stroke="#f2f6f8" stroke-width="1"/>
<line x1="0" y1="233.70" x2="689" y2="233.70" stroke="#f2f6f8" stroke-width="1"/>
<line x1="0" y1="241.40" x2="689" y2="241.40" stroke="#f2f6f8" stroke-width="1"/>
<line x1="0" y1="249.10" x2="689" y2="249.10" stroke="#f2f6f8" stroke-width="1"/>
<line x1="0" y1="256.80" x2="689" y2="256.80" stroke="#f2f6f8" stroke-width="1"/>
<line x1="0" y1="264.50" x2="689" y2="264.50" stroke="#f2f6f8" stroke-width="1"/>
<line x1="0" y1="272.20" x2="689" y2="272.20" stroke="#f2f6f8" stroke-width="1"/>
<line x1="0" y1="279.90" x2="689" y2="279.90" stroke="#f2f6f8" stroke-width="1"/>
<line x1="0" y1="287.60" x2="689" y2="287.60" stroke="#f2f6f8" stroke-width="1"/>
<line x1="0" y1="295.30" x2="689" y2="295.30" stroke="#f2f6f8" stroke-width="1"/>
<line x1="0" y1="303.00" x2="689" y2="303.00" stroke="#f2f6f8" stroke-width="1"/>
<line x1="0" y1="310.70" x2="689" y2="310.70" stroke="#f2f6f8" stroke-width="1"/>
<line x1="0" y1="318.40" x2="689" y2="318.40" stroke="#f2f6f8" stroke-width="1"/>
<line x1="0" y1="326.10" x2="689" y2="326.10" stroke="#f2f6f8" stroke-width="1"/>
<line x1="0" y1="333.80" x2="689" y2="333.80" stroke="#f2f6f8" stroke-width="1"/>
<line x1="0" y1="341.50" x2="689" y2="341.50" stroke="#f2f6f8" stroke-width="1"/>
<line x1="0" y1="349.20" x2="689" y2="349.20" stroke="#f2f6f8" stroke-width="1"/>
<line x1="0" y1="356.90" x2="689" y2="356.90" stroke="#f2f6f8" stroke-width="1"/>
<line x1="0" y1="364.60" x2="689" y2="364.60" stroke="#f2f6f8" stroke-width="1"/>
<line x1="0" y1="372.30" x2="689" y2="372.30" stroke="#f2f6f8" stroke-width="1"/>
<line x1="0" y1="380.00" x2="689" y2="380.00" stroke="#f2f6f8" stroke-width="1"/>
<line x1="27.4" y1="0" x2="27.4" y2="387" stroke="#f0e2e5" stroke-width="1.6"/>
<line x1="0" y1="14.20" x2="7" y2="13.60" stroke="#d5dce2" stroke-width="0.7"/>
<circle cx="9.4" cy="12.40" r="3.3" fill="#1c3142"/>
<line x1="5.4" y1="13.70" x2="11.6" y2="9.30" stroke="#cfe2ec" stroke-width="1.9"/>
<line x1="0" y1="31.55" x2="7" y2="30.95" stroke="#d5dce2" stroke-width="0.7"/>
<circle cx="9.4" cy="29.75" r="3.3" fill="#1c3142"/>
<line x1="5.4" y1="31.05" x2="11.6" y2="26.65" stroke="#cfe2ec" stroke-width="1.9"/>
<line x1="0" y1="48.90" x2="7" y2="48.30" stroke="#d5dce2" stroke-width="0.7"/>
<circle cx="9.4" cy="47.10" r="3.3" fill="#1c3142"/>
<line x1="5.4" y1="48.40" x2="11.6" y2="44.00" stroke="#cfe2ec" stroke-width="1.9"/>
<line x1="0" y1="66.25" x2="7" y2="65.65" stroke="#d5dce2" stroke-width="0.7"/>
<circle cx="9.4" cy="64.45" r="3.3" fill="#1c3142"/>
<line x1="5.4" y1="65.75" x2="11.6" y2="61.35" stroke="#cfe2ec" stroke-width="1.9"/>
<line x1="0" y1="83.60" x2="7" y2="83.00" stroke="#d5dce2" stroke-width="0.7"/>
<circle cx="9.4" cy="81.80" r="3.3" fill="#1c3142"/>
<line x1="5.4" y1="83.10" x2="11.6" y2="78.70" stroke="#cfe2ec" stroke-width="1.9"/>
<line x1="0" y1="100.95" x2="7" y2="100.35" stroke="#d5dce2" stroke-width="0.7"/>
<circle cx="9.4" cy="99.15" r="3.3" fill="#1c3142"/>
<line x1="5.4" y1="100.45" x2="11.6" y2="96.05" stroke="#cfe2ec" stroke-width="1.9"/>
<line x1="0" y1="118.30" x2="7" y2="117.70" stroke="#d5dce2" stroke-width="0.7"/>
<circle cx="9.4" cy="116.50" r="3.3" fill="#1c3142"/>
<line x1="5.4" y1="117.80" x2="11.6" y2="113.40" stroke="#cfe2ec" stroke-width="1.9"/>
<line x1="0" y1="135.65" x2="7" y2="135.05" stroke="#d5dce2" stroke-width="0.7"/>
<circle cx="9.4" cy="133.85" r="3.3" fill="#1c3142"/>
<line x1="5.4" y1="135.15" x2="11.6" y2="130.75" stroke="#cfe2ec" stroke-width="1.9"/>
<line x1="0" y1="153.00" x2="7" y2="152.40" stroke="#d5dce2" stroke-width="0.7"/>
<circle cx="9.4" cy="151.20" r="3.3" fill="#1c3142"/>
<line x1="5.4" y1="152.50" x2="11.6" y2="148.10" stroke="#cfe2ec" stroke-width="1.9"/>
<line x1="0" y1="170.35" x2="7" y2="169.75" stroke="#d5dce2" stroke-width="0.7"/>
<circle cx="9.4" cy="168.55" r="3.3" fill="#1c3142"/>
<line x1="5.4" y1="169.85" x2="11.6" y2="165.45" stroke="#cfe2ec" stroke-width="1.9"/>
<line x1="0" y1="187.70" x2="7" y2="187.10" stroke="#d5dce2" stroke-width="0.7"/>
<circle cx="9.4" cy="185.90" r="3.3" fill="#1c3142"/>
<line x1="5.4" y1="187.20" x2="11.6" y2="182.80" stroke="#cfe2ec" stroke-width="1.9"/>
<line x1="0" y1="205.05" x2="7" y2="204.45" stroke="#d5dce2" stroke-width="0.7"/>
<circle cx="9.4" cy="203.25" r="3.3" fill="#1c3142"/>
<line x1="5.4" y1="204.55" x2="11.6" y2="200.15" stroke="#cfe2ec" stroke-width="1.9"/>
<line x1="0" y1="222.40" x2="7" y2="221.80" stroke="#d5dce2" stroke-width="0.7"/>
<circle cx="9.4" cy="220.60" r="3.3" fill="#1c3142"/>
<line x1="5.4" y1="221.90" x2="11.6" y2="217.50" stroke="#cfe2ec" stroke-width="1.9"/>
<line x1="0" y1="239.75" x2="7" y2="239.15" stroke="#d5dce2" stroke-width="0.7"/>
<circle cx="9.4" cy="237.95" r="3.3" fill="#1c3142"/>
<line x1="5.4" y1="239.25" x2="11.6" y2="234.85" stroke="#cfe2ec" stroke-width="1.9"/>
<line x1="0" y1="257.10" x2="7" y2="256.50" stroke="#d5dce2" stroke-width="0.7"/>
<circle cx="9.4" cy="255.30" r="3.3" fill="#1c3142"/>
<line x1="5.4" y1="256.60" x2="11.6" y2="252.20" stroke="#cfe2ec" stroke-width="1.9"/>
<line x1="0" y1="274.45" x2="7" y2="273.85" stroke="#d5dce2" stroke-width="0.7"/>
<circle cx="9.4" cy="272.65" r="3.3" fill="#1c3142"/>
<line x1="5.4" y1="273.95" x2="11.6" y2="269.55" stroke="#cfe2ec" stroke-width="1.9"/>
<line x1="0" y1="291.80" x2="7" y2="291.20" stroke="#d5dce2" stroke-width="0.7"/>
<circle cx="9.4" cy="290.00" r="3.3" fill="#1c3142"/>
<line x1="5.4" y1="291.30" x2="11.6" y2="286.90" stroke="#cfe2ec" stroke-width="1.9"/>
<line x1="0" y1="309.15" x2="7" y2="308.55" stroke="#d5dce2" stroke-width="0.7"/>
<circle cx="9.4" cy="307.35" r="3.3" fill="#1c3142"/>
<line x1="5.4" y1="308.65" x2="11.6" y2="304.25" stroke="#cfe2ec" stroke-width="1.9"/>
<line x1="0" y1="326.50" x2="7" y2="325.90" stroke="#d5dce2" stroke-width="0.7"/>
<circle cx="9.4" cy="324.70" r="3.3" fill="#1c3142"/>
<line x1="5.4" y1="326.00" x2="11.6" y2="321.60" stroke="#cfe2ec" stroke-width="1.9"/>
<line x1="0" y1="343.85" x2="7" y2="343.25" stroke="#d5dce2" stroke-width="0.7"/>
<circle cx="9.4" cy="342.05" r="3.3" fill="#1c3142"/>
<line x1="5.4" y1="343.35" x2="11.6" y2="338.95" stroke="#cfe2ec" stroke-width="1.9"/>
<line x1="0" y1="361.20" x2="7" y2="360.60" stroke="#d5dce2" stroke-width="0.7"/>
<circle cx="9.4" cy="359.40" r="3.3" fill="#1c3142"/>
<line x1="5.4" y1="360.70" x2="11.6" y2="356.30" stroke="#cfe2ec" stroke-width="1.9"/>
<line x1="0" y1="378.55" x2="7" y2="377.95" stroke="#d5dce2" stroke-width="0.7"/>
<circle cx="9.4" cy="376.75" r="3.3" fill="#1c3142"/>
<line x1="5.4" y1="378.05" x2="11.6" y2="373.65" stroke="#cfe2ec" stroke-width="1.9"/>
<g fill="none" stroke="#587278" stroke-width="1.1">
<ellipse cx="341.6" cy="195.2" rx="87.6" ry="73.3" transform="rotate(-18.3 341.6 195.2)"/>
<ellipse cx="343.4" cy="195.8" rx="84.6" ry="72.0" transform="rotate(-16 343.4 195.8)"/>
<ellipse cx="342.6" cy="193.8" rx="84.2" ry="75.2" transform="rotate(-24 342.6 193.8)"/>
</g>
<path d="M289.27,150.46 L287.76,149.69 L286.23,148.92 L284.68,148.15 L283.12,147.37 L281.55,146.60 L279.99,145.83 L278.44,145.06 L276.90,144.29 L275.39,143.52 L273.90,142.75 L272.45,141.99 L271.04,141.22 L269.68,140.46 L268.38,139.70 L267.14,138.95 L265.96,138.19 L264.87,137.44 L263.86,136.70 L262.94,135.97 L262.12,135.24 L261.41,134.53 L260.81,133.83 L260.33,133.16 L259.97,132.52 L259.61,131.64 L259.39,130.81 L259.29,130.02 L259.30,129.27 L259.41,128.55 L259.62,127.86 L259.93,127.19 L260.32,126.54 L260.80,125.93 L261.36,125.34 L262.00,124.78 L262.70,124.27 L263.47,123.79 L264.30,123.37 L265.17,122.99 L266.08,122.67 L267.01,122.41 L267.97,122.20 L268.94,122.06 L269.91,121.99 L270.88,121.98 L271.83,122.04 L272.76,122.17 L273.57,122.34 L274.31,122.68 L275.00,123.10 L275.60,123.57 L276.11,124.07 L276.53,124.61 L276.87,125.17 L277.14,125.75 L277.32,126.35 L277.44,126.97 L277.48,127.59 L277.46,128.21 L277.36,128.82 L277.19,129.42 L276.96,130.00 L276.66,130.55 L276.29,131.07 L275.87,131.55 L275.38,131.99 L274.83,132.39 L274.22,132.73 L273.53,133.01 L272.76,133.22 L271.92,133.35 L270.99,133.40 L270.00,133.36 L269.00,133.25 L268.01,133.08 L267.02,132.83 L266.03,132.53 L265.06,132.16 L264.08,131.73 L263.12,131.25 L262.16,130.72 L261.20,130.14 L260.26,129.51 L259.33,128.84 L258.41,128.13 L257.50,127.39 L256.60,126.62 L255.71,125.82 L254.84,125.00 L253.99,124.17 L253.15,123.31 L252.33,122.45 L251.52,121.58 L250.74,120.70 L249.97,119.83 L249.22,118.96 L248.56,118.18 L247.89,117.39 L247.22,116.59 L246.56,115.80 L245.89,115.01 L245.22,114.22 L244.56,113.43 L243.89,112.64 L243.22,111.84 L242.56,111.05 L241.89,110.26 L241.22,109.47 L240.56,108.68 L239.89,107.89 L239.22,107.09 L238.56,106.30 L237.89,105.51 L237.22,104.72 L236.56,103.93 L235.89,103.14 L235.22,102.34 L234.56,101.55 L233.89,100.76 L233.22,99.97 L230.78,102.03 L231.44,102.82 L232.11,103.61 L232.78,104.41 L233.44,105.20 L234.11,105.99 L234.78,106.78 L235.44,107.57 L236.11,108.36 L236.78,109.16 L237.44,109.95 L238.11,110.74 L238.78,111.53 L239.44,112.32 L240.11,113.11 L240.78,113.91 L241.44,114.70 L242.11,115.49 L242.78,116.28 L243.44,117.07 L244.11,117.86 L244.78,118.66 L245.44,119.45 L246.11,120.24 L246.78,121.04 L247.55,121.93 L248.35,122.83 L249.16,123.73 L249.99,124.64 L250.85,125.54 L251.73,126.43 L252.63,127.31 L253.54,128.18 L254.48,129.02 L255.44,129.85 L256.42,130.64 L257.42,131.41 L258.44,132.14 L259.48,132.83 L260.54,133.48 L261.63,134.08 L262.73,134.63 L263.85,135.12 L264.99,135.55 L266.16,135.92 L267.34,136.21 L268.54,136.42 L269.76,136.55 L271.01,136.60 L272.25,136.54 L273.44,136.35 L274.55,136.04 L275.59,135.62 L276.54,135.09 L277.40,134.48 L278.16,133.78 L278.82,133.01 L279.37,132.17 L279.82,131.29 L280.16,130.37 L280.39,129.43 L280.52,128.47 L280.53,127.50 L280.44,126.53 L280.23,125.57 L279.91,124.64 L279.47,123.74 L278.92,122.88 L278.25,122.09 L277.47,121.36 L276.58,120.71 L275.59,120.15 L274.43,119.66 L273.21,119.42 L272.06,119.29 L270.91,119.25 L269.75,119.29 L268.60,119.41 L267.47,119.61 L266.35,119.88 L265.26,120.22 L264.20,120.63 L263.18,121.10 L262.21,121.64 L261.30,122.23 L260.44,122.89 L259.66,123.61 L258.96,124.39 L258.35,125.23 L257.84,126.13 L257.44,127.08 L257.17,128.08 L257.03,129.12 L257.05,130.19 L257.22,131.28 L257.54,132.38 L258.03,133.48 L258.54,134.34 L259.17,135.17 L259.91,135.97 L260.74,136.76 L261.66,137.53 L262.67,138.30 L263.76,139.06 L264.92,139.81 L266.16,140.55 L267.45,141.30 L268.81,142.04 L270.21,142.78 L271.66,143.51 L273.15,144.25 L274.67,144.98 L276.21,145.71 L277.77,146.44 L279.35,147.17 L280.94,147.90 L282.52,148.63 L284.10,149.35 L285.66,150.08 L287.21,150.81 L288.73,151.54Z" fill="#2b8aa0"/><circle cx="232.00" cy="101.00" r="1.60" fill="#2b8aa0"/>
<path d="M243,105 L232,100.5 L234,113" fill="none" stroke="#2b8aa0" stroke-width="2.8000000000000003" stroke-linecap="round" stroke-linejoin="round"/>
<path d="M404.58,147.15 L405.04,145.48 L405.59,143.94 L406.23,142.51 L406.95,141.17 L407.74,139.93 L408.61,138.78 L409.55,137.71 L410.55,136.73 L411.62,135.82 L412.74,134.99 L413.91,134.23 L415.14,133.54 L416.41,132.91 L417.72,132.35 L419.07,131.84 L420.45,131.39 L421.86,131.00 L423.29,130.65 L424.74,130.35 L426.21,130.10 L427.68,129.89 L429.17,129.72 L430.65,129.58 L432.18,129.48 L434.10,129.24 L435.94,128.94 L437.72,128.57 L439.45,128.12 L441.11,127.62 L442.73,127.06 L444.29,126.45 L445.79,125.78 L447.25,125.06 L448.65,124.28 L450.00,123.44 L451.31,122.55 L452.56,121.60 L453.77,120.60 L454.93,119.55 L456.04,118.44 L457.11,117.28 L458.13,116.07 L459.12,114.80 L460.06,113.49 L460.96,112.12 L461.82,110.70 L462.64,109.23 L463.42,107.74 L460.58,106.26 L459.83,107.71 L459.05,109.09 L458.25,110.41 L457.42,111.68 L456.55,112.89 L455.65,114.06 L454.71,115.17 L453.74,116.22 L452.72,117.23 L451.67,118.19 L450.58,119.09 L449.44,119.95 L448.26,120.76 L447.03,121.52 L445.76,122.22 L444.43,122.89 L443.05,123.50 L441.62,124.06 L440.13,124.58 L438.58,125.04 L436.98,125.46 L435.31,125.85 L433.59,126.21 L431.82,126.52 L430.34,126.70 L428.81,126.91 L427.26,127.17 L425.73,127.46 L424.20,127.81 L422.68,128.19 L421.18,128.63 L419.70,129.13 L418.25,129.68 L416.83,130.29 L415.45,130.97 L414.11,131.71 L412.82,132.53 L411.59,133.41 L410.41,134.38 L409.30,135.42 L408.26,136.55 L407.29,137.75 L406.41,139.05 L405.62,140.43 L404.92,141.90 L404.31,143.47 L403.81,145.12 L403.42,146.85Z" fill="#2b8aa0"/><circle cx="462.00" cy="107.00" r="1.60" fill="#2b8aa0"/>
<path d="M450,115 L462,107 L460,120" fill="none" stroke="#2b8aa0" stroke-width="2.8000000000000003" stroke-linecap="round" stroke-linejoin="round"/>
<path d="M288.96,192.40 L286.57,192.50 L284.16,192.65 L281.73,192.85 L279.29,193.10 L276.83,193.39 L274.36,193.71 L271.87,194.06 L269.36,194.43 L266.84,194.82 L264.29,195.22 L261.72,195.62 L259.13,196.03 L256.52,196.42 L253.88,196.81 L251.22,197.18 L248.54,197.52 L245.82,197.84 L243.08,198.12 L240.31,198.36 L237.52,198.58 L234.69,198.80 L231.83,198.96 L228.93,199.07 L225.99,199.10 L224.65,199.09 L223.30,199.08 L221.97,199.05 L220.66,199.01 L219.36,198.96 L218.07,198.90 L216.80,198.82 L215.55,198.74 L214.32,198.63 L213.11,198.52 L211.92,198.39 L210.75,198.24 L209.60,198.08 L208.48,197.91 L207.38,197.72 L206.30,197.51 L205.26,197.29 L204.24,197.05 L203.24,196.79 L202.28,196.52 L201.35,196.23 L200.45,195.92 L199.58,195.60 L198.72,195.24 L197.28,198.76 L198.20,199.13 L199.17,199.50 L200.17,199.84 L201.20,200.16 L202.25,200.46 L203.33,200.74 L204.43,200.99 L205.55,201.23 L206.69,201.45 L207.86,201.66 L209.05,201.84 L210.25,202.01 L211.48,202.16 L212.72,202.30 L213.98,202.42 L215.26,202.52 L216.56,202.62 L217.87,202.69 L219.19,202.76 L220.53,202.81 L221.88,202.85 L223.24,202.88 L224.62,202.89 L226.01,202.90 L229.02,202.86 L232.01,202.76 L234.94,202.59 L237.84,202.37 L240.70,202.06 L243.51,201.67 L246.28,201.24 L249.02,200.78 L251.72,200.29 L254.38,199.78 L257.02,199.26 L259.62,198.72 L262.19,198.19 L264.74,197.65 L267.25,197.12 L269.75,196.61 L272.22,196.11 L274.67,195.63 L277.10,195.19 L279.52,194.78 L281.91,194.41 L284.30,194.09 L286.67,193.81 L289.04,193.60Z" fill="#2a5fa9"/><circle cx="198.00" cy="197.00" r="1.90" fill="#2a5fa9"/>
<path d="M213,197.5 L198,197 L207.5,206.3" fill="none" stroke="#2a5fa9" stroke-width="3.4" stroke-linecap="round" stroke-linejoin="round"/>
<path d="M405.56,194.40 L407.37,194.25 L409.18,194.16 L410.98,194.12 L412.79,194.14 L414.61,194.20 L416.42,194.31 L418.24,194.46 L420.06,194.65 L421.89,194.88 L423.72,195.14 L425.55,195.43 L427.39,195.75 L429.22,196.09 L431.07,196.46 L432.91,196.85 L434.76,197.25 L436.61,197.66 L438.47,198.09 L440.32,198.53 L442.18,198.96 L444.05,199.41 L445.92,199.84 L447.79,200.28 L449.67,200.71 L451.59,201.12 L453.56,201.51 L455.58,201.86 L457.63,202.13 L459.72,202.36 L461.83,202.55 L463.97,202.71 L466.11,202.83 L468.27,202.92 L470.43,202.96 L472.58,202.97 L474.74,202.94 L476.87,202.86 L479.00,202.75 L481.10,202.59 L483.17,202.39 L485.21,202.14 L487.21,201.85 L489.17,201.51 L491.09,201.12 L492.95,200.69 L494.75,200.20 L496.49,199.67 L498.13,199.09 L496.87,195.51 L495.31,196.06 L493.70,196.55 L492.02,197.00 L490.28,197.41 L488.48,197.77 L486.62,198.09 L484.71,198.37 L482.76,198.61 L480.77,198.80 L478.75,198.95 L476.70,199.07 L474.64,199.14 L472.56,199.17 L470.47,199.16 L468.38,199.12 L466.29,199.04 L464.22,198.92 L462.15,198.77 L460.10,198.58 L458.08,198.36 L456.09,198.11 L454.13,197.87 L452.22,197.59 L450.33,197.29 L448.46,196.96 L446.59,196.62 L444.70,196.28 L442.82,195.93 L440.94,195.59 L439.05,195.25 L437.16,194.91 L435.28,194.59 L433.39,194.28 L431.51,193.98 L429.62,193.71 L427.74,193.45 L425.86,193.22 L423.98,193.02 L422.11,192.85 L420.23,192.71 L418.37,192.61 L416.50,192.55 L414.64,192.54 L412.79,192.57 L410.94,192.64 L409.09,192.78 L407.26,192.96 L405.44,193.20Z" fill="#2a5fa9"/><circle cx="497.50" cy="197.30" r="1.90" fill="#2a5fa9"/>
<path d="M483.4,197.3 L497.5,197.3 L489.3,205.5" fill="none" stroke="#2a5fa9" stroke-width="3.4" stroke-linecap="round" stroke-linejoin="round"/>
<path d="M295.16,242.57 L294.88,243.69 L294.54,244.75 L294.12,245.77 L293.64,246.75 L293.08,247.69 L292.46,248.60 L291.77,249.47 L291.02,250.31 L290.19,251.11 L289.30,251.87 L288.34,252.60 L287.31,253.29 L286.21,253.94 L285.05,254.56 L283.82,255.14 L282.53,255.68 L281.16,256.18 L279.74,256.65 L278.24,257.07 L276.68,257.45 L275.06,257.80 L273.37,258.10 L271.62,258.36 L269.75,258.59 L268.39,258.86 L267.04,259.18 L265.68,259.57 L264.30,260.03 L262.92,260.55 L261.54,261.16 L260.16,261.84 L258.78,262.58 L257.40,263.37 L256.02,264.23 L254.65,265.15 L253.29,266.13 L251.95,267.17 L250.61,268.27 L249.30,269.43 L248.00,270.64 L246.72,271.92 L245.47,273.25 L244.25,274.65 L243.05,276.10 L241.89,277.61 L240.77,279.17 L239.68,280.80 L238.64,282.45 L241.36,284.15 L242.36,282.53 L243.39,281.00 L244.46,279.52 L245.56,278.09 L246.69,276.72 L247.84,275.40 L249.02,274.15 L250.22,272.94 L251.45,271.79 L252.69,270.70 L253.94,269.67 L255.21,268.70 L256.48,267.78 L257.76,266.92 L259.05,266.12 L260.33,265.37 L261.62,264.69 L262.90,264.06 L264.17,263.50 L265.42,262.97 L266.66,262.49 L267.88,262.07 L269.09,261.71 L270.25,261.41 L272.06,261.10 L273.88,260.74 L275.62,260.33 L277.31,259.89 L278.92,259.40 L280.48,258.88 L281.96,258.31 L283.38,257.70 L284.73,257.06 L286.02,256.37 L287.23,255.65 L288.38,254.88 L289.45,254.08 L290.46,253.24 L291.39,252.36 L292.24,251.44 L293.03,250.48 L293.73,249.49 L294.36,248.46 L294.92,247.39 L295.39,246.30 L295.79,245.17 L296.10,244.00 L296.34,242.83Z" fill="#2a76a5"/><circle cx="240.00" cy="283.30" r="1.60" fill="#2a76a5"/>
<path d="M242.1,271.3 L240,283.3 L252,276.5" fill="none" stroke="#2a76a5" stroke-width="2.8000000000000003" stroke-linecap="round" stroke-linejoin="round"/>
<path d="M394.50,236.32 L395.37,237.72 L396.28,239.14 L397.21,240.57 L398.18,242.00 L399.18,243.43 L400.21,244.85 L401.27,246.26 L402.36,247.65 L403.48,249.01 L404.62,250.34 L405.80,251.63 L407.01,252.88 L408.25,254.08 L409.52,255.22 L410.82,256.30 L412.15,257.31 L413.51,258.25 L414.90,259.10 L416.32,259.87 L417.77,260.54 L419.26,261.11 L420.78,261.57 L422.33,261.91 L423.96,262.14 L425.36,262.06 L426.62,261.80 L427.79,261.37 L428.84,260.79 L429.77,260.05 L430.58,259.20 L431.26,258.25 L431.81,257.21 L432.24,256.10 L432.55,254.94 L432.74,253.74 L432.81,252.50 L432.77,251.25 L432.61,249.98 L432.34,248.72 L431.95,247.48 L431.45,246.26 L430.83,245.08 L430.08,243.96 L429.22,242.89 L428.24,241.91 L427.13,241.03 L425.90,240.25 L424.49,239.58 L423.02,239.22 L421.65,239.11 L420.35,239.23 L419.13,239.57 L418.03,240.13 L417.06,240.88 L416.25,241.79 L415.61,242.83 L415.13,243.97 L414.82,245.20 L414.66,246.49 L414.65,247.84 L414.80,249.22 L415.11,250.63 L415.57,252.06 L416.20,253.49 L416.99,254.91 L417.94,256.31 L419.07,257.67 L420.37,258.98 L421.85,260.23 L423.50,261.40 L425.34,262.49 L427.27,263.42 L428.52,264.11 L429.81,264.82 L431.11,265.53 L432.40,266.24 L433.69,266.94 L434.98,267.65 L436.27,268.36 L437.56,269.07 L438.86,269.78 L440.15,270.49 L441.44,271.19 L442.73,271.90 L444.02,272.61 L445.31,273.32 L446.61,274.03 L447.90,274.74 L449.19,275.44 L450.48,276.15 L451.77,276.86 L453.06,277.57 L454.36,278.28 L455.65,278.99 L456.94,279.69 L458.23,280.40 L459.77,277.60 L458.48,276.89 L457.19,276.18 L455.89,275.47 L454.60,274.76 L453.31,274.06 L452.02,273.35 L450.73,272.64 L449.44,271.93 L448.14,271.22 L446.85,270.51 L445.56,269.81 L444.27,269.10 L442.98,268.39 L441.69,267.68 L440.39,266.97 L439.10,266.26 L437.81,265.56 L436.52,264.85 L435.23,264.14 L433.94,263.43 L432.64,262.72 L431.35,262.01 L430.06,261.31 L428.73,260.58 L426.85,259.66 L425.24,258.71 L423.80,257.70 L422.54,256.63 L421.44,255.52 L420.50,254.38 L419.71,253.22 L419.06,252.07 L418.56,250.92 L418.20,249.79 L417.96,248.70 L417.85,247.66 L417.85,246.69 L417.96,245.79 L418.17,244.99 L418.46,244.28 L418.83,243.68 L419.25,243.18 L419.74,242.78 L420.29,242.48 L420.94,242.28 L421.69,242.19 L422.57,242.23 L423.51,242.42 L424.49,242.87 L425.45,243.44 L426.32,244.10 L427.11,244.85 L427.81,245.66 L428.42,246.54 L428.95,247.47 L429.38,248.45 L429.72,249.45 L429.97,250.47 L430.13,251.49 L430.19,252.50 L430.16,253.49 L430.04,254.44 L429.82,255.35 L429.52,256.20 L429.14,256.97 L428.67,257.67 L428.12,258.28 L427.49,258.81 L426.78,259.24 L425.96,259.56 L425.04,259.78 L424.04,259.86 L422.69,259.71 L421.31,259.44 L419.93,259.07 L418.57,258.59 L417.22,258.01 L415.89,257.33 L414.57,256.57 L413.26,255.73 L411.98,254.80 L410.71,253.81 L409.46,252.74 L408.24,251.62 L407.04,250.44 L405.86,249.22 L404.70,247.95 L403.57,246.65 L402.46,245.32 L401.39,243.96 L400.33,242.59 L399.31,241.20 L398.31,239.81 L397.35,238.43 L396.41,237.04 L395.50,235.68Z" fill="#2a76a5"/><circle cx="459.00" cy="279.00" r="1.60" fill="#2a76a5"/>
<path d="M451.8,269.7 L459,279 L445.5,279" fill="none" stroke="#2a76a5" stroke-width="2.8000000000000003" stroke-linecap="round" stroke-linejoin="round"/>
<g fill="none" stroke="#8a8a8a" stroke-width="1.9" stroke-linecap="round">
<path d="M114.8,30 A9.2,9.2 0 1 1 123.8,38 A9.2,9.2 0 0 1 114.8,30"/>
<circle cx="124.3" cy="28.9" r="5.4"/>
<circle cx="124.6" cy="29.2" r="1.9"/>
<path d="M110.5,32.3 L117,31.8"/>
</g>
<g fill="none" stroke="#6e6e6e" stroke-width="1" stroke-linecap="round">
<path d="M342.5,92.5 C342,88 337.5,85.5 336,82 A11.2,11.2 0 1 1 358,82 C356.5,85.5 352,88 351.5,92.5 Z"/>
<path d="M344,92 L344,87 M350,92 L350,87 M343,86 L345,88 L347,85.5 L349,88 L351,86"/>
<rect x="342" y="93" width="10" height="10" rx="1.5"/>
<path d="M342,96.5 H352 M342,99.5 H352"/>
</g>
<g stroke="#6e6e6e" stroke-width="2.2" stroke-linecap="round">
<path d="M340.5,58.5 L341.3,62.5"/><path d="M355.5,60 L353.5,64"/><path d="M331,64.5 L334.5,66.5"/>
<path d="M365.5,68.5 L362,70"/><path d="M325.5,75.5 L329.5,75.8"/><path d="M363,82.5 L366.5,84.5"/><path d="M329.5,87.5 L332.5,85.5"/>
</g>
<g fill="none" stroke="#8a8a8a" stroke-width="1.4" stroke-linecap="round">
<path d="M649.4,7.6 Q651,2 655.2,0.3"/>
<path d="M661,0.3 Q663,0.8 664.4,2.3"/>
<path d="M669.8,7.6 Q673,4 675.6,4.2 Q679,4 681.4,5.7"/>
<path d="M684.3,11.5 Q686.5,15 681.4,18.8"/>
<path d="M682.4,23.2 Q686,27 682.5,31.5 Q679,33.5 675.6,32.4"/>
<path d="M672.7,33.9 Q672.5,40 663.9,43.6" stroke-width="2.2"/>
<path d="M658.1,44 Q652,42 649.4,34.8"/>
<path d="M644.5,31.9 Q641,30 639.6,28"/>
<path d="M638.7,21.2 Q638,16 645,12"/>
</g>
<g fill="none" stroke="#8a8a8a" stroke-width="1.3" stroke-linejoin="round">
<polygon points="70.70,263.60 69.30,265.25 69.77,267.36 67.76,268.18 67.20,270.27 65.05,270.05 63.58,271.64 61.77,270.45 59.73,271.17 58.68,269.28 56.54,268.97 56.49,266.81 54.74,265.54 55.70,263.60 54.74,261.66 56.49,260.39 56.54,258.23 58.68,257.92 59.73,256.03 61.77,256.75 63.58,255.56 65.05,257.15 67.20,256.93 67.76,259.02 69.77,259.84 69.30,261.95"/>
<circle cx="62.6" cy="263.6" r="4.6"/>
<ellipse cx="63.2" cy="264.4" rx="2.3" ry="1.8"/>
</g>
<g fill="none" stroke="#6e6e6e" stroke-width="1.4" stroke-linejoin="round">
<path d="M654.6,336.5 C654.8,332.5 663.5,332 664,336.5 C664,341 661.5,346 660.6,350.2 L657,350.2 C656,345 654.4,340.5 654.6,336.5 Z"/>
<circle cx="658.7" cy="353.9" r="1.8" stroke-width="1.6"/>
</g>
<g fill="none" stroke="#6e6e6e" stroke-width="1.4">
<circle cx="343.5" cy="368.5" r="10.3"/>
<circle cx="343.5" cy="368.5" r="7.6"/>
<path d="M345.5,364 A4.5,4.5 0 0 1 348,368" stroke-width="1.2"/>
<path d="M346,378.3 L349.5,392 M350,377.5 L353.5,392"/>
</g>
</svg>
<div class="box" style="left:96.2px;top:53.2px;width:119px;height:52.8px;background:#8fd0df;border-color:#6aaabd"><div class="bt">Add Title Here</div><div class="bb">Lorem ipsum dolor sit amet,<br>consectetur</div></div>
<div class="box" style="left:474.4px;top:53.5px;width:118px;height:52.7px;background:#8fd0df;border-color:#6aaabd"><div class="bt">Add Title Here</div><div class="bb">Lorem ipsum dolor sit amet,<br>consectetur</div></div>
<div class="box" style="left:54.4px;top:169px;width:118px;height:52px;background:#8ab4e8;border-color:#6b8fc6"><div class="bt">Add Title Here</div><div class="bb">Lorem ipsum dolor sit amet,<br>consectetur</div></div>
<div class="box" style="left:517.4px;top:169px;width:118.6px;height:52.2px;background:#8ab4e8;border-color:#6b8fc6"><div class="bt">Add Title Here</div><div class="bb">Lorem ipsum dolor sit amet,<br>consectetur</div></div>
<div class="box" style="left:101.2px;top:282.5px;width:118.3px;height:52px;background:#8ec7ea;border-color:#6aa5c8"><div class="bt">Add Title Here</div><div class="bb">Lorem ipsum dolor sit amet,<br>consectetur</div></div>
<div class="box" style="left:474.4px;top:282.5px;width:118px;height:52px;background:#8ec7ea;border-color:#6aa5c8"><div class="bt">Add Title Here</div><div class="bb">Lorem ipsum dolor sit amet,<br>consectetur</div></div>
<div class="mm" style="color:#3a3a3a"><span style="letter-spacing:-0.9px">Mind</span><br><span style="letter-spacing:0.9px">Map</span></div>
</div>
<div id="site" class="abs">slidepick.com</div>
<div class="abs" style="left:0;top:0;width:1024px;height:576px;filter:drop-shadow(5px -5px 9px rgba(0,0,0,.28))"><div id="free" class="abs"></div></div><svg class="abs" style="left:0;top:386px" width="191" height="191"><line x1="-0.5" y1="0" x2="190.5" y2="191" stroke="#f7aeb0" stroke-width="1.2" opacity=".8"/></svg>
<div id="freetxt" class="abs"><span>FREE</span></div>
</body></html>
